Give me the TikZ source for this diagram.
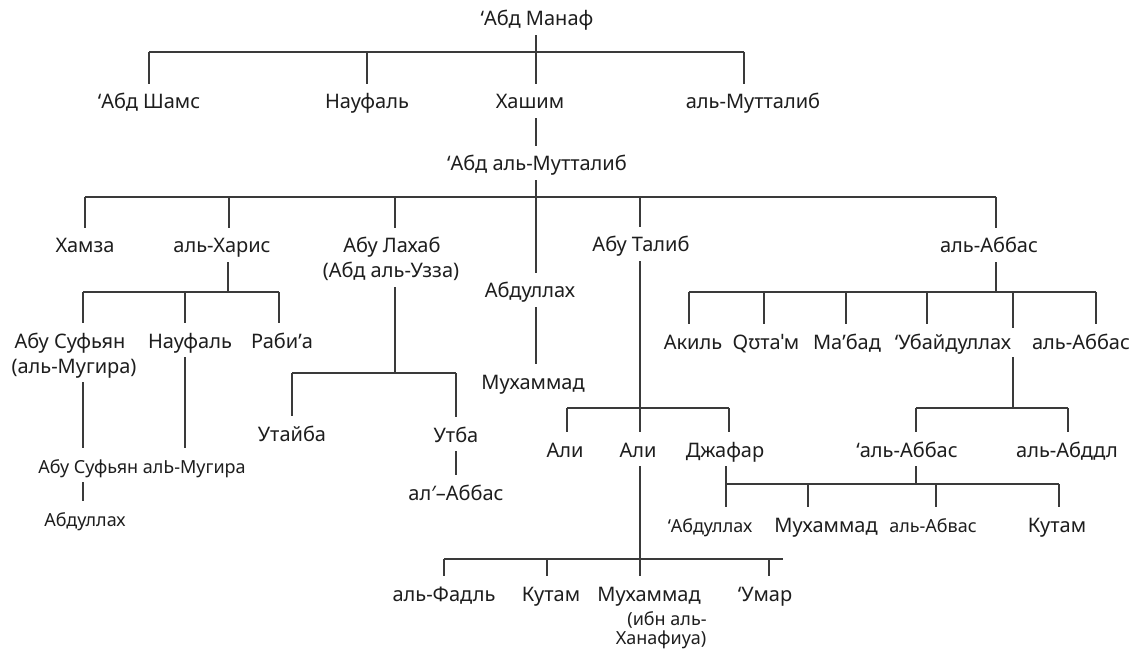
\documentclass[tikz,border=0pt]{standalone}
\usepackage{fontspec}
\setmainfont{Noto Sans}
\definecolor{ink}{HTML}{1E1E1E}
\definecolor{wire}{HTML}{3A3A3A}
\tikzset{
  lbl/.style={font=\fontsize{20}{22}\selectfont, text=ink, text height=25pt, text depth=9pt, inner sep=0pt, anchor=base},
  slbl/.style={lbl, font=\fontsize{18}{20}\selectfont},
  wireline/.style={draw=wire, line width=1.1pt}
}
\begin{document}
\begin{tikzpicture}[x=1pt,y=-1pt]
\useasboundingbox[fill=white] (0,0) rectangle (1140,652);
% ---- nodes ----
\node[lbl] (manaf) at (537,26) {ʻАбд Манаф};
\node[lbl] (shams) at (149,109) {ʻАбд Шамс};
\node[lbl] (nawfal) at (367,109) {Науфаль};
\node[lbl] (hashim) at (530,109) {Хашим};
\node[lbl] (muttalib) at (753,109) {аль-Мутталиб};
\node[lbl] (abdmut) at (537,171) {ʻАбд аль-Мутталиб};
\node[lbl] (hamza) at (85,253) {Хамза};
\node[lbl] (haris) at (222,253) {аль-Харис};
\node[lbl] (lahab) at (392,253) {Абу Лахаб};
\node[lbl] (lahabb) at (391,278) {(Абд аль-Узза)};
\node[lbl] (abdullah) at (530,298) {Абдуллах};
\node[lbl] (muhammad) at (533,389) {Мухаммад};
\node[lbl] (talib) at (641,252) {Абу Талиб};
\node[lbl] (abbas) at (989,253) {аль-Аббас};
\node[lbl] (sufyan) at (70,348) {Абу Суфьян};
\node[lbl] (sufyanb) at (74,373) {(аль-Мугира)};
\node[lbl] (nawfalb) at (190,348) {Науфаль};
\node[lbl] (rabia) at (282,348) {Рабиʼа};
\node[slbl] (sufyan2) at (142,473) {Абу Суфьян алЬ-Мугира};
\node[slbl] (abdullah2) at (85,526) {Абдуллах};
\node[lbl] (utaiba) at (292,441) {Утайба};
\node[lbl] (utba) at (456,442) {Утба};
\node[lbl] (alabbas) at (456,500) {ал′–Аббас};
\node[lbl] (ali1) at (565,457) {Али};
\node[lbl] (ali2) at (638,457) {Али};
\node[lbl] (jafar) at (725,457) {Джафар};
\node[lbl] (aqil) at (693,349) {Акиль};
\node[lbl] (qutham) at (766,349) {Qʊтаˈм};
\node[lbl] (mabad) at (847,349) {Маʼбад};
\node[lbl] (ubaid) at (953,349) {ʻУбайдуллах};
\node[lbl] (abbas2) at (1081,349) {аль-Аббас};
\node[lbl] (abbas3) at (907,457) {ʻаль-Аббас};
\node[lbl] (abddl) at (1067,457) {аль-Абддл};
\node[slbl] (jabd) at (710,532) {ʻАбдуллах};
\node[lbl] (jmuh) at (826,532) {Мухаммад};
\node[slbl] (jabv) at (933,532) {аль-Абвас};
\node[lbl] (jkut) at (1057,532) {Кутам};
\node[lbl] (fadl) at (444,601) {аль-Фадль};
\node[lbl] (kutam) at (551,601) {Кутам};
\node[lbl] (muhhan) at (649,601) {Мухаммад};
\node[slbl] (muhhanb) at (667,625) {(ибн аль-};
\node[slbl] (muhhanc) at (661,644) {Ханафиуа)};
\node[lbl] (umar) at (765,601) {ʻУмар};
% ---- junction coordinates ----
\coordinate (b1l) at (149,52); \coordinate (b1n) at (367,52);
\coordinate (b1c) at (536,52); \coordinate (b1r) at (744,52);
\coordinate (b2l) at (85,197); \coordinate (b2h) at (229,197);
\coordinate (b2la) at (395,197); \coordinate (b2c) at (536,197);
\coordinate (b2t) at (640,197); \coordinate (b2r) at (996,197);
\coordinate (b3l) at (83,292); \coordinate (b3n) at (185,292);
\coordinate (b3c) at (228,292); \coordinate (b3r) at (279,292);
\coordinate (b4l) at (292,373); \coordinate (b4c) at (395,373); \coordinate (b4r) at (456,373);
\coordinate (b5l) at (567,408); \coordinate (b5c) at (640,408); \coordinate (b5r) at (729,408);
\coordinate (b7l) at (444,559); \coordinate (b7k) at (547,559); \coordinate (b7c) at (640,559);
\coordinate (b7u) at (769,559); \coordinate (b7r) at (783,559);
\coordinate (b8l) at (689,292); \coordinate (b8q) at (764,292); \coordinate (b8m) at (846,292);
\coordinate (b8u) at (927,292); \coordinate (b8x) at (1013,292); \coordinate (b8c) at (996,292);
\coordinate (b8r) at (1096,292);
\coordinate (g1) at (1013,328); \coordinate (g2) at (1013,357);
\coordinate (b9l) at (916,408); \coordinate (b9c) at (1013,408); \coordinate (b9r) at (1068,408);
\coordinate (b6l) at (726,484); \coordinate (b6m) at (808,484); \coordinate (b6c) at (916,484);
\coordinate (b6a) at (936,484); \coordinate (b6r) at (1059,484);
% ---- connectors ----
\begin{scope}[wireline]
% Abd Manaf
\draw (b1l) -- (b1r);
\draw (b1c |- manaf.south) -- (b1c |- hashim.north);
\draw (b1l) -- (b1l |- shams.north);
\draw (b1n) -- (b1n |- nawfal.north);
\draw (b1r) -- (b1r |- muttalib.north);
\draw (b1c |- hashim.south) -- (b1c |- abdmut.north);
% Abd al-Muttalib
\draw (b2l) -- (b2r);
\draw (b2c |- abdmut.south) -- (b2c |- abdullah.north);
\draw (b2l) -- (b2l |- hamza.north);
\draw (b2h) -- (b2h |- haris.north);
\draw (b2la) -- (b2la |- lahab.north);
\draw (b2t) -- (b2t |- talib.north);
\draw (b2r) -- (b2r |- abbas.north);
\draw (b2c |- abdullah.south) -- (b2c |- muhammad.north);
% al-Harith
\draw (b3c |- haris.south) -- (b3c);
\draw (b3l) -- (b3r);
\draw (b3l) -- (b3l |- sufyan.north);
\draw (b3n) -- (b3n |- nawfalb.north);
\draw (b3r) -- (b3r |- rabia.north);
\draw (b3l |- sufyanb.south) -- (b3l |- sufyan2.north);
\draw (b3n |- nawfalb.south) -- (b3n |- sufyan2.north);
\draw (b3l |- sufyan2.south) -- (b3l |- abdullah2.north);
% Abu Lahab
\draw (b4c |- lahabb.south) -- (b4c);
\draw (b4l) -- (b4r);
\draw (b4l) -- (b4l |- utaiba.north);
\draw (b4r) -- (b4r |- utba.north);
\draw (b4r |- utba.south) -- (b4r |- alabbas.north);
% Abu Talib
\draw (b2t |- talib.south) -- (b2t |- ali2.north);
\draw (b5l) -- (b5r);
\draw (b5l) -- (b5l |- ali1.north);
\draw (b5r) -- (b5r |- jafar.north);
% Ali
\draw (b5c |- ali2.south) -- (b5c |- muhhan.north);
\draw (b7l) -- (b7r);
\draw (b7l) -- (b7l |- fadl.north);
\draw (b7k) -- (b7k |- kutam.north);
\draw (b7u) -- (b7u |- umar.north);
% al-Abbas
\draw (b2r |- abbas.south) -- (b8c);
\draw (b8l) -- (b8r);
\draw (b8l) -- (b8l |- aqil.north);
\draw (b8q) -- (b8q |- qutham.north);
\draw (b8m) -- (b8m |- mabad.north);
\draw (b8u) -- (b8u |- ubaid.north);
\draw (b8x) -- (g1);
\draw (b8r) -- (b8r |- abbas2.north);
\draw (g2) -- (b9c);
\draw (b9l) -- (b9r);
\draw (b9l) -- (b9l |- abbas3.north);
\draw (b9r) -- (b9r |- abddl.north);
% 'al-Abbas and Ja'far
\draw (b6c |- abbas3.south) -- (b6c);
\draw (b6l) -- (b6r);
\draw (b6l |- jafar.south) -- (b6l |- jabd.north);
\draw (b6m) -- (b6m |- jmuh.north);
\draw (b6a) -- (b6a |- jabv.north);
\draw (b6r) -- (b6r |- jkut.north);
\end{scope}
\end{tikzpicture}
\end{document}
